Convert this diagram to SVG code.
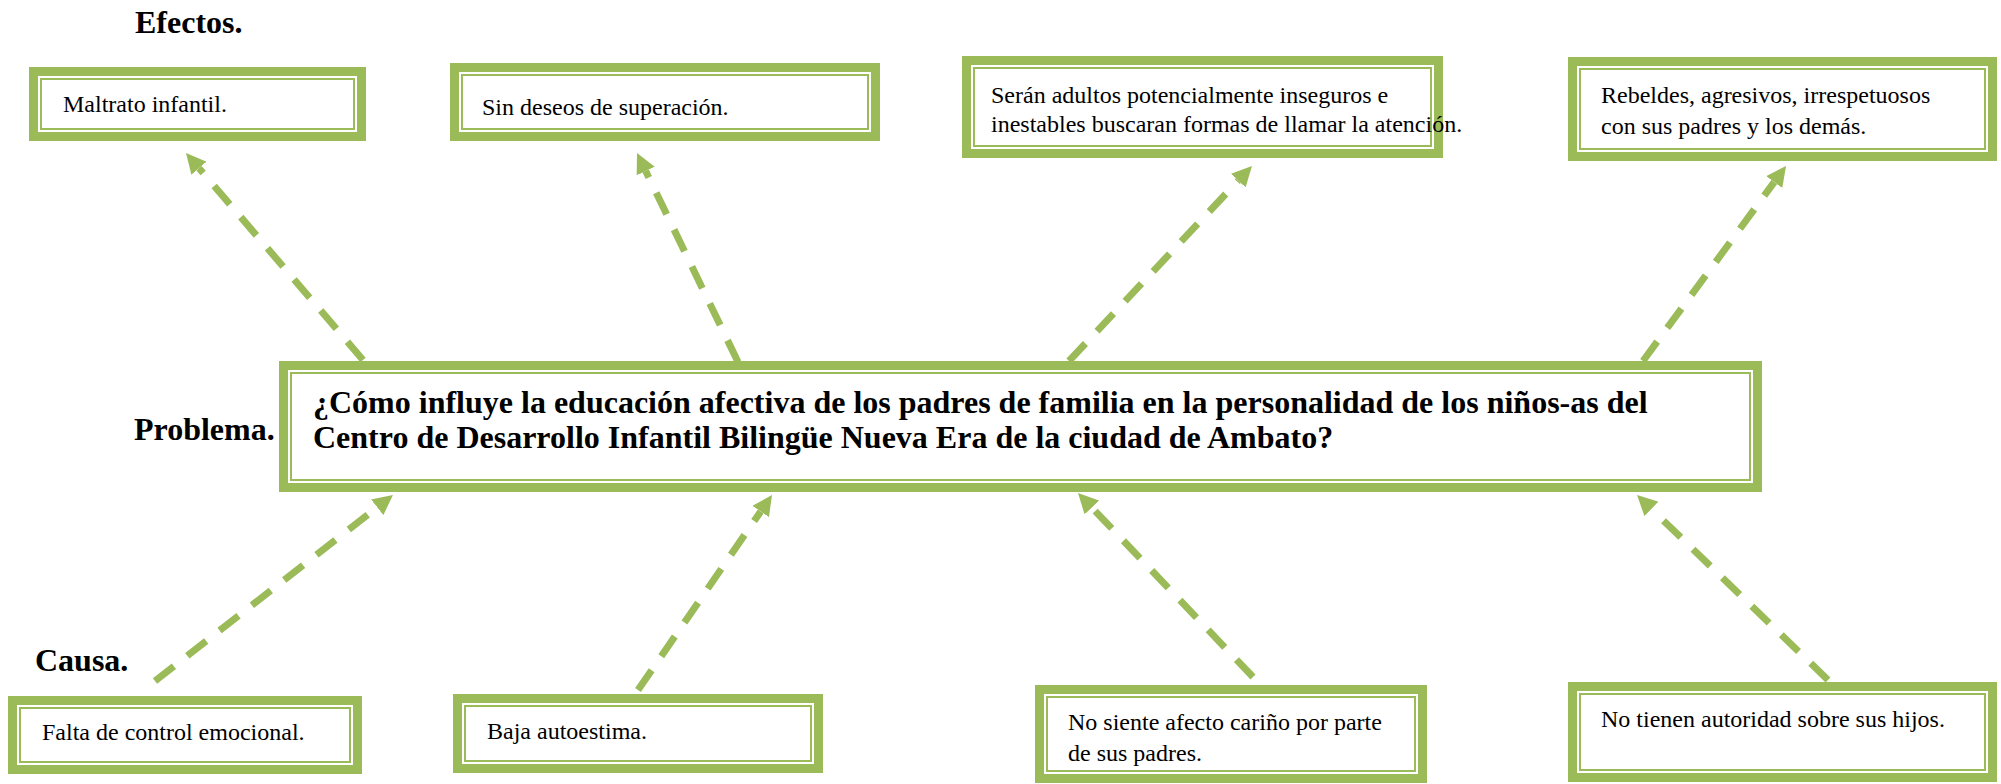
<svg xmlns="http://www.w3.org/2000/svg" width="2001" height="784" viewBox="0 0 2001 784">
<defs>
<style>
.ob{fill:#fff;stroke:#9BBB59;stroke-width:9}
.ib{fill:none;stroke:#9BBB59;stroke-width:2}
.t{font-family:"Liberation Serif","Times New Roman",serif;font-size:24px;fill:#000}
.h{font-family:"Liberation Serif","Times New Roman",serif;font-size:32px;font-weight:bold;fill:#000}
.c{fill:none;stroke:#9BBB59;stroke-width:7;stroke-dasharray:24 17}
</style>
<marker id="ah" viewBox="0 0 20 20" refX="0" refY="10" markerWidth="20" markerHeight="20" markerUnits="userSpaceOnUse" orient="auto">
<path d="M0,0 L20,10 L0,20 Z" fill="#9BBB59"/>
</marker>
</defs>
<rect width="2001" height="784" fill="#fff"/>
<text class="h" x="135" y="33">Efectos.</text>
<text class="h" x="134" y="440">Problema.</text>
<text class="h" x="35" y="671">Causa.</text>
<g id="connectors">
<line class="c" x1="363" y1="360" x2="199" y2="168.2" marker-end="url(#ah)"/>
<line class="c" x1="738" y1="362" x2="645.7" y2="171" marker-end="url(#ah)"/>
<line class="c" x1="1069" y1="361" x2="1238.3" y2="180.6" marker-end="url(#ah)"/>
<line class="c" x1="1643" y1="361" x2="1774.2" y2="182.1" marker-end="url(#ah)"/>
<line class="c" x1="155" y1="681" x2="377.2" y2="507.3" marker-end="url(#ah)"/>
<line class="c" x1="638" y1="690" x2="760.7" y2="511.5" marker-end="url(#ah)"/>
<line class="c" x1="1253" y1="677" x2="1091.8" y2="507.5" marker-end="url(#ah)"/>
<line class="c" x1="1828" y1="680" x2="1651.4" y2="508.9" marker-end="url(#ah)"/>
</g>
<g id="e1">
<rect class="ob" x="33.5" y="71.5" width="328" height="65"/>
<rect class="ib" x="41" y="79" width="313" height="50"/>
<text class="t" x="63" y="112">Maltrato infantil.</text>
</g>
<g id="e2">
<rect class="ob" x="454.5" y="67.5" width="421" height="69"/>
<rect class="ib" x="462" y="75" width="406" height="54"/>
<text class="t" x="482" y="115">Sin deseos de superación.</text>
</g>
<g id="e3">
<rect class="ob" x="966.5" y="60.5" width="472" height="93"/>
<rect class="ib" x="974" y="68" width="457" height="78"/>
<text class="t" x="991" y="103">Serán adultos potencialmente inseguros e</text>
<text class="t" x="991" y="132">inestables buscaran formas de llamar la atención.</text>
</g>
<g id="e4">
<rect class="ob" x="1572.5" y="61.5" width="420" height="95"/>
<rect class="ib" x="1580" y="69" width="405" height="80"/>
<text class="t" x="1601" y="103">Rebeldes, agresivos, irrespetuosos</text>
<text class="t" x="1601" y="134">con sus padres y los demás.</text>
</g>
<g id="problem">
<rect class="ob" x="283.5" y="365.5" width="1474" height="122"/>
<rect class="ib" x="291" y="373" width="1459" height="107"/>
<text class="h" x="313" y="413">¿Cómo influye la educación afectiva de los padres de familia en la personalidad de los niños-as del</text>
<text class="h" x="313" y="448">Centro de Desarrollo Infantil Bilingüe Nueva Era de la ciudad de Ambato?</text>
</g>
<g id="c1">
<rect class="ob" x="12.5" y="700.5" width="345" height="69"/>
<rect class="ib" x="20" y="708" width="330" height="54"/>
<text class="t" x="42" y="740">Falta de control emocional.</text>
</g>
<g id="c2">
<rect class="ob" x="457.5" y="698.5" width="361" height="70"/>
<rect class="ib" x="465" y="706" width="346" height="55"/>
<text class="t" x="487" y="739">Baja autoestima.</text>
</g>
<g id="c3">
<rect class="ob" x="1039.5" y="689.5" width="383" height="89"/>
<rect class="ib" x="1047" y="697" width="368" height="74"/>
<text class="t" x="1068" y="730">No siente afecto cariño por parte</text>
<text class="t" x="1068" y="761">de sus padres.</text>
</g>
<g id="c4">
<rect class="ob" x="1572.5" y="686.5" width="420" height="91"/>
<rect class="ib" x="1580" y="694" width="405" height="76"/>
<text class="t" x="1601" y="727">No tienen autoridad sobre sus hijos.</text>
</g>
</svg>
